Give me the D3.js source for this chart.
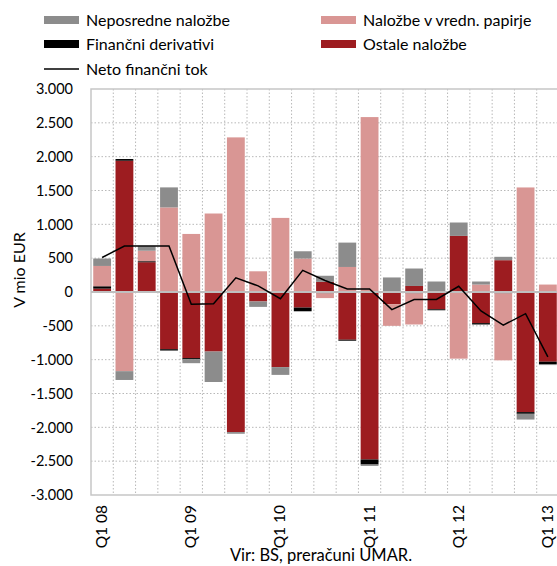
<!DOCTYPE html>
<html><head><meta charset="utf-8">
<script src="https://cdn.jsdelivr.net/npm/d3@7"></script>
<style>body{margin:0;background:#fff}svg{display:block;font-family:Lato,"Noto Sans",sans-serif}</style>
</head><body><svg id="c" width="557" height="566"></svg>
<script>
const quarters=["Q1 08","Q2 08","Q3 08","Q4 08","Q1 09","Q2 09","Q3 09","Q4 09","Q1 10","Q2 10","Q3 10","Q4 10","Q1 11","Q2 11","Q3 11","Q4 11","Q1 12","Q2 12","Q3 12","Q4 12","Q1 13"];
const ostale=[50,1940,440,-845,-977,-880,-2070,-140,-1110,-230,150,-705,-2475,-180,89,-255,829,-460,470,-1775,-1030];
const derivativi=[35,25,15,-20,-15,0,0,0,0,-55,-20,-15,-75,0,-20,-15,-15,-20,-20,-25,-35];
const papirji=[300,-1170,155,1250,858,1160,2285,306,1095,494,-70,370,2585,-320,-460,0,-970,110,-990,1545,110];
const neposredne=[110,-130,65,296,-60,-450,-25,-80,-115,108,90,360,-20,215,258,155,198,45,50,-85,-15];
const netoTok=[510,680,680,680,-180,-175,210,90,-100,320,170,45,45,-260,-110,-110,85,-280,-490,-320,-960];
const yTicks=[3000,2500,2000,1500,1000,500,0,-500,-1000,-1500,-2000,-2500,-3000];
const xLabelQuarters=["Q1 08","Q1 09","Q1 10","Q1 11","Q1 12","Q1 13"];
const seriesKeys=["ostale","derivativi","papirji","neposredne"];
const seriesNames={neposredne:"Neposredne naložbe",papirji:"Naložbe v vredn. papirje",derivativi:"Finančni derivativi",ostale:"Ostale naložbe"};
const colors={neposredne:"#8c8c8c",papirji:"#d99694",derivativi:"#000000",ostale:"#9d1c20"};

const svg=d3.select("#c");
const L=91,R=559,T=89,B=495;
const x=d3.scaleBand().domain(quarters).range([L,R]).paddingInner(0.2).paddingOuter(0.1);
const y=d3.scaleLinear().domain([-3000,3000]).range([B,T]);
const step=x.step();
const x0=x(quarters[0])-step*x.paddingOuter();

// grid
const g=svg.append("g");
g.selectAll("line.h").data(yTicks.filter(v=>v!==0&&v!==3000&&v!==-3000)).join("line")
 .attr("x1",L).attr("x2",R).attr("y1",d=>y(d)).attr("y2",d=>y(d))
 .attr("stroke","#b8b8b8").attr("stroke-width",1).attr("stroke-dasharray","1.5,2");
g.selectAll("line.v").data(d3.range(1,quarters.length)).join("line")
 .attr("y1",T).attr("y2",B).attr("x1",d=>x0+d*step).attr("x2",d=>x0+d*step)
 .attr("stroke","#b8b8b8").attr("stroke-width",1).attr("stroke-dasharray","1.5,2");
svg.append("rect").attr("x",L).attr("y",T).attr("width",R-L).attr("height",B-T)
 .attr("fill","none").attr("stroke","#c6c6c6").attr("stroke-width",1.5);

// stacked bars
const rows=quarters.map((q,i)=>({q,ostale:ostale[i],derivativi:derivativi[i],papirji:papirji[i],neposredne:neposredne[i]}));
const stack=d3.stack().keys(seriesKeys).offset(d3.stackOffsetDiverging)(rows);
svg.append("g").selectAll("g").data(stack).join("g").attr("fill",d=>colors[d.key])
 .selectAll("rect").data(d=>d).join("rect")
 .attr("x",d=>x(d.data.q)).attr("width",x.bandwidth())
 .attr("y",d=>y(Math.max(d[0],d[1]))).attr("height",d=>Math.abs(y(d[0])-y(d[1])));

// zero line
svg.append("line").attr("x1",L).attr("x2",R).attr("y1",y(0)).attr("y2",y(0))
 .attr("stroke","#bfbfbf").attr("stroke-width",2.2);

// net line
svg.append("path").datum(netoTok).attr("fill","none").attr("stroke","#000").attr("stroke-width",1.5)
 .attr("d",d3.line().x((d,i)=>x(quarters[i])+x.bandwidth()/2).y(d=>y(d)));

// y axis labels
const fmt=v=>d3.format(",")(v).replace(/,/g,".").replace("−","-");
svg.append("g").selectAll("text").data(yTicks).join("text")
 .attr("x",73).attr("y",d=>y(d)).attr("dy","0.36em").attr("text-anchor","end")
 .attr("font-size",14.5).attr("fill","#000").text(fmt);
svg.append("text").attr("transform","translate(25,270) rotate(-90)").attr("text-anchor","middle")
 .attr("font-size",16).text("V mio EUR");

// x labels
svg.append("g").selectAll("text").data(xLabelQuarters).join("text")
 .attr("transform",d=>`translate(${x(d)+x.bandwidth()/2+5},505) rotate(-90)`)
 .attr("text-anchor","end").attr("font-size",15.5).text(d=>d);

svg.append("text").attr("x",321).attr("y",561).attr("text-anchor","middle").attr("font-size",16.5)
 .text("Vir: BS, preračuni UMAR.");

// legend
const leg=[{k:"neposredne",x:44,y:20},{k:"papirji",x:321,y:20},{k:"derivativi",x:44,y:44},{k:"ostale",x:321,y:44}];
const lg=svg.append("g");
leg.forEach(l=>{
 lg.append("rect").attr("x",l.x).attr("y",l.y-4).attr("width",35).attr("height",8).attr("fill",colors[l.k]);
 lg.append("text").attr("x",l.x+42).attr("y",l.y).attr("dy","0.35em").attr("font-size",16).text(seriesNames[l.k]);
});
lg.append("line").attr("x1",44).attr("x2",79).attr("y1",69).attr("y2",69).attr("stroke","#000").attr("stroke-width",1.5);
lg.append("text").attr("x",86).attr("y",69).attr("dy","0.35em").attr("font-size",16).text("Neto finančni tok");
</script></body></html>
